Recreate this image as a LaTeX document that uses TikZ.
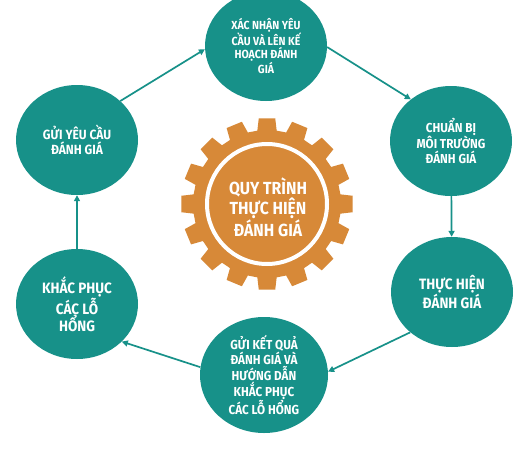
\documentclass[tikz,border=0pt]{standalone}
\usepackage{fontspec}
\setmainfont{Fira Sans}[FakeStretch=0.9]
\usetikzlibrary{shapes.geometric,arrows.meta}
\definecolor{teal1}{RGB}{23,145,137}
\definecolor{gearc}{RGB}{215,137,56}
\begin{document}
\begin{tikzpicture}[x=1pt,y=-1pt,
  stepc/.style={ellipse, fill=teal1, minimum width=122pt, minimum height=110pt,
    inner sep=0pt, text=white, align=center},
  ftop/.style={font=\bfseries\fontsize{11.7}{12.8}\selectfont},
  fmid/.style={font=\bfseries\fontsize{13.3}{15.3}\selectfont},
  fbig/.style={font=\bfseries\fontsize{15}{17}\selectfont},
  arr/.style={draw=teal1, line width=1.7pt, -{Triangle[length=6pt,width=6pt]}}]
\clip (0,0) rectangle (516,452);
\fill[white] (0,0) rectangle (516,452);
% gear
\begin{scope}[shift={(267,204)}]
  \fill[gearc] (82.5:74) \foreach \i in {0,...,15}{
     -- ({90+22.5*\i-5.5}:86) -- ({90+22.5*\i+5.5}:86)
     -- ({90+22.5*\i+7.5}:74) -- ({90+22.5*\i+15}:74)} -- cycle;
  \draw[white, line width=4pt] (0,0) circle (60);
\end{scope}
\node[text=white, align=center, font=\bfseries\fontsize{17.5}{18.5}\selectfont] (gear) at (268,207) {QUY TRÌNH\\THỰC HIỆN\\ĐÁNH GIÁ};
% steps
\node[stepc, ftop] (xn) at (266,46) {XÁC NHẬN YÊU\\CẦU VÀ LÊN KẾ\\HOẠCH ĐÁNH\\GIÁ};
\node[stepc, fmid, font=\bfseries\fontsize{13}{15.3}\selectfont] (cb) at (451,141) {CHUẨN BỊ\\MÔI TRƯỜNG\\ĐÁNH GIÁ};
\node[stepc, fbig] (th) at (452,292) {THỰC HIỆN\\ĐÁNH GIÁ};
\node[stepc, minimum width=128pt, minimum height=116pt, font=\bfseries\fontsize{13}{13.6}\selectfont] (gk) at (264,375) {GỬI KẾT QUẢ\\ĐÁNH GIÁ VÀ\\HƯỚNG DẪN\\KHẮC PHỤC\\CÁC LỖ HỔNG};
\node[stepc, fbig] (kp) at (77,304) {KHẮC PHỤC\\CÁC LỖ\\HỔNG};
\node[stepc, fmid] (gy) at (77,140) {GỬI YÊU CẦU\\ĐÁNH GIÁ};
% arrows
\draw[arr] (gy.42) -- (xn.183);
\draw[arr] (xn.-1) -- (cb.134);
\draw[arr] (cb) -- (th);
\draw[arr] (th.224) -- (gk.3);
\draw[arr] (gk.173) -- (kp.-40);
\draw[arr] (kp) -- (gy);
\end{tikzpicture}
\end{document}
